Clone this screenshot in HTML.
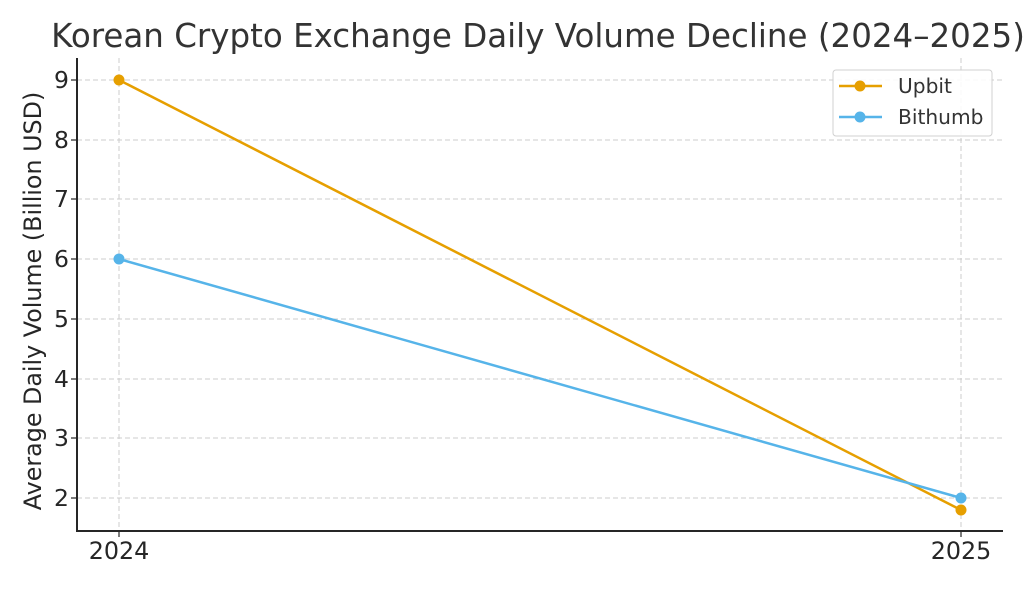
<!DOCTYPE html>
<html><head><meta charset="utf-8"><style>body{margin:0;background:#fff}</style></head><body>
<svg width="1024" height="585" xmlns="http://www.w3.org/2000/svg" font-family="DejaVu Sans, Liberation Sans, sans-serif" fill="#262626">
<rect width="1024" height="585" fill="#fff"/>
<text x="538" y="47" font-size="32.5" text-anchor="middle" fill="#333">Korean Crypto Exchange Daily Volume Decline (2024–2025)</text>
<g stroke="#cccccc" stroke-width="1" stroke-dasharray="5,3">
<line x1="77" x2="1003" y1="80" y2="80"/><line x1="77" x2="1003" y1="140" y2="140"/><line x1="77" x2="1003" y1="199" y2="199"/><line x1="77" x2="1003" y1="259" y2="259"/><line x1="77" x2="1003" y1="319" y2="319"/><line x1="77" x2="1003" y1="379" y2="379"/><line x1="77" x2="1003" y1="438" y2="438"/><line x1="77" x2="1003" y1="498" y2="498"/>
<line x1="119" x2="119" y1="58" y2="531"/><line x1="961" x2="961" y1="58" y2="531"/>
</g>
<g stroke="#262626" stroke-width="2">
<line x1="77" y1="58" x2="77" y2="532"/><line x1="76" y1="531" x2="1003" y2="531"/>
</g>
<g stroke="#262626" stroke-width="1.2">
<line x1="71" x2="77" y1="80" y2="80"/><line x1="71" x2="77" y1="140" y2="140"/><line x1="71" x2="77" y1="199" y2="199"/><line x1="71" x2="77" y1="259" y2="259"/><line x1="71" x2="77" y1="319" y2="319"/><line x1="71" x2="77" y1="379" y2="379"/><line x1="71" x2="77" y1="438" y2="438"/><line x1="71" x2="77" y1="498" y2="498"/>
<line x1="119" x2="119" y1="531" y2="537"/><line x1="961" x2="961" y1="531" y2="537"/>
</g>
<g font-size="23.5" text-anchor="end">
<text x="69" y="88">9</text><text x="69" y="148">8</text><text x="69" y="207">7</text><text x="69" y="267">6</text><text x="69" y="327">5</text><text x="69" y="387">4</text><text x="69" y="446">3</text><text x="69" y="506">2</text>
</g>
<g font-size="23.8" text-anchor="middle"><text x="119" y="559">2024</text><text x="961" y="559">2025</text></g>
<text transform="translate(41,301) rotate(-90)" font-size="23.8" text-anchor="middle">Average Daily Volume (Billion USD)</text>
<polyline points="119,80 961,510" fill="none" stroke="#E69F00" stroke-width="2.5"/>
<polyline points="119,259 961,498" fill="none" stroke="#56B4E9" stroke-width="2.5"/>
<circle cx="119" cy="80" r="5.5" fill="#E69F00"/><circle cx="961" cy="510" r="5.5" fill="#E69F00"/>
<circle cx="119" cy="259" r="5.5" fill="#56B4E9"/><circle cx="961" cy="498" r="5.5" fill="#56B4E9"/>
<rect x="833" y="70" width="159" height="66" rx="3" fill="#fff" fill-opacity="0.85" stroke="#d0d0d0"/>
<line x1="839" x2="882" y1="86" y2="86" stroke="#E69F00" stroke-width="2.5"/><circle cx="860" cy="86" r="5.5" fill="#E69F00"/>
<line x1="839" x2="882" y1="117" y2="117" stroke="#56B4E9" stroke-width="2.5"/><circle cx="860" cy="117" r="5.5" fill="#56B4E9"/>
<g font-size="20.2" fill="#333"><text x="898" y="93">Upbit</text><text x="898" y="124">Bithumb</text></g>
</svg>
</body></html>
